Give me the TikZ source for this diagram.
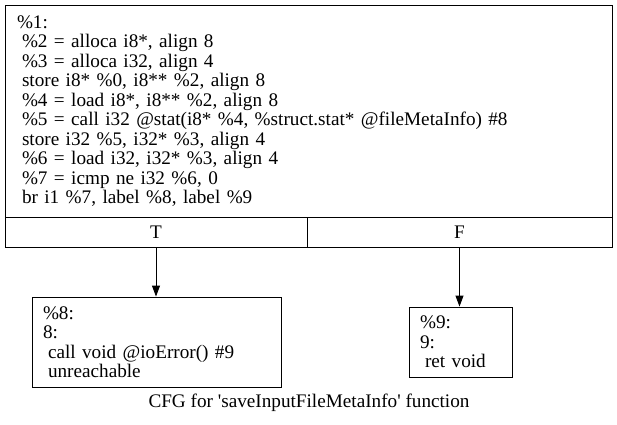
\documentclass[tikz,border=0pt]{standalone}
\usepackage{fontspec}
\setmainfont{Liberation Serif}
\usetikzlibrary{arrows.meta}
\newcommand{\insp}{\hspace*{5pt}}
\tikzset{
	blk/.style={draw, line width=.9pt, inner ysep=0pt, align=left, font=\fontsize{19.2}{19.5}\selectfont},
	cell/.style={draw, line width=.9pt, inner sep=0pt, font=\fontsize{19.2}{19.5}\selectfont},
	edge/.style={line width=.9pt, -{Triangle[length=11pt,width=8pt]}}
}
\begin{document}
\begin{tikzpicture}[x=1pt, y=-1pt]
	\useasboundingbox (0,0) rectangle (617,424);
	\node[blk, inner xsep=12pt, text width=583pt, minimum height=212pt] (bb1) at (308.5,111) {\%1:\\ \insp\%2 = alloca i8*, align 8\\ \insp\%3 = alloca i32, align 4\\ \insp store i8* \%0, i8** \%2, align 8\\ \insp\%4 = load i8*, i8** \%2, align 8\\ \insp\%5 = call i32 @stat(i8* \%4, \%struct.stat* @fileMetaInfo) \#8\\ \insp store i32 \%5, i32* \%3, align 4\\ \insp\%6 = load i32, i32* \%3, align 4\\ \insp\%7 = icmp ne i32 \%6, 0\\ \insp br i1 \%7, label \%8, label \%9};
	\node[cell, minimum width=302pt, minimum height=30pt] (bbT) at (156,232) {T};
	\node[cell, minimum width=305pt, minimum height=30pt] (bbF) at (459.5,232) {F};
	\node[blk, inner xsep=11pt, text width=227pt, minimum height=90pt] (bb8) at (156.5,342) {\%8:\\ 8:\\ \insp call void @ioError() \#9\\ \insp unreachable};
	\node[blk, inner xsep=11pt, text width=81pt, minimum height=70pt] (bb9) at (460.5,342) {\%9:\\ 9:\\ \insp ret void};
	\draw[edge] (bbT.south) -- (bbT.south |- bb8.north);
	\draw[edge] (bbF.south) -- (bbF.south |- bb9.north);
	\node[font=\fontsize{19.2}{19.5}\selectfont] (cap) at (309,403) {CFG for \textquotesingle saveInputFileMetaInfo\textquotesingle{} function};
\end{tikzpicture}
\end{document}
